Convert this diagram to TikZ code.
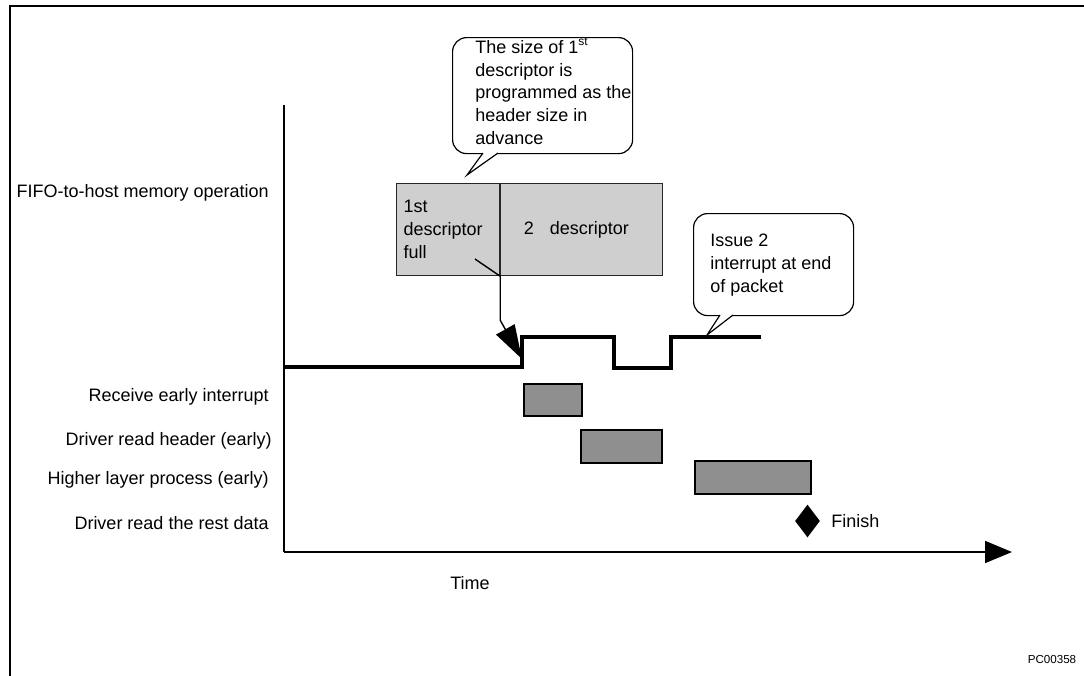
\documentclass[tikz,border=0pt]{standalone}
\usepackage{fontspec}
\setmainfont{Liberation Sans}
\usetikzlibrary{arrows.meta,shapes.geometric}
\begin{document}
\begin{tikzpicture}[x=0.5pt, y=-0.5pt,
    every node/.style={font=\fontsize{9}{11.4}\selectfont, inner sep=0pt},
    lbl/.style={anchor=east},
    note/.style={draw, line width=0.6pt, fill=white, rounded corners=7pt, anchor=north west},
    notetext/.style={anchor=north west, align=left},
    descbox/.style={draw=black!85, line width=0.6pt, fill=black!19, minimum height=46pt, anchor=north west, align=left, inner ysep=0pt},
    taskbar/.style={draw, line width=0.75pt, fill=black!44, anchor=north west, minimum height=16.5pt},
    sig/.style={line width=1.65pt},
    axisline/.style={line width=0.9pt}]
    \useasboundingbox (0,0) rectangle (1084,676);
    \draw[line width=1pt] (1084,5.5) -- (10,5.5) -- (10,676);

    % axes
    \coordinate (origin) at (284,552);
    \coordinate (ytop) at (284,105);
    \coordinate (xend) at (1012,552);
    \draw[axisline] (ytop) -- (origin);
    \draw[axisline, -{Triangle[length=13.5pt, width=11pt]}] (origin) -- (xend);
    \node (time) at (470,583) {Time};

    % row labels
    \node[lbl] (fifo) at (269,193) {FIFO-to-host memory operation};
    \node[lbl] (rxirq) at (269,397) {Receive early interrupt};
    \node[lbl] (rdhdr) at (272,441) {Driver read header (early)};
    \node[lbl] (hlproc) at (269,480) {Higher layer process (early)};
    \node[lbl] (rdrest) at (269,523) {Driver read the rest data};

    % descriptors
    \node[descbox, text width=44.5pt, inner xsep=3.5pt] (firstdesc) at (396,183) {1st\\descriptor\\full};
    \node[descbox, text width=58pt, inner xsep=11.5pt] (seconddesc) at (firstdesc.north east) {2\hspace{5pt} descriptor};

    % interrupt line
    \draw[sig] (284,367) -- (522,367) -- (522,337) -- (614,337) -- (614,368) -- (671,368) -- (671,337) -- (761,337);

    \coordinate (fullmark) at (475,259);
    \coordinate (earlyirq) at (522,359);
    \draw[line width=0.7pt, -{Triangle[length=17pt, width=10.5pt]}] (fullmark) -- (firstdesc.south east) -- ++(0,44) -- (earlyirq);

    % callouts
    \node[note, minimum width=90pt, minimum height=58pt] (sizenote) at (452,37) {};
    \fill[white] (483,153) -- (467,175) -- (498,153) -- (498,150) -- (483,150) -- cycle;
    \draw[line width=0.6pt] (483,153) -- (467,175) -- (498,153);
    \node[notetext] (sizetext) at (475,37.5) {The size of 1\textsuperscript{st}\\descriptor is\\programmed as the\\header size in\\advance};

    \node[note, minimum width=80pt, minimum height=51pt] (irqnote) at (693,213) {};
    \fill[white] (720,315) -- (707,335) -- (733,315) -- (733,312) -- (720,312) -- cycle;
    \draw[line width=0.6pt] (720,315) -- (707,335) -- (733,315);
    \node[notetext] (irqtext) at (710,233.5) {Issue 2\\interrupt at end\\of packet};

    % processing bars
    \node[taskbar, minimum width=29pt, minimum height=16pt] (rxbar) at (523,383) {};
    \node[taskbar, minimum width=40.5pt] (hdrbar) at (580,429) {};
    \node[taskbar, minimum width=58pt] (hlbar) at (694,460) {};
    \node[diamond, fill=black, minimum width=12.5pt, minimum height=16.5pt] (finishmark) at (807.5,521) {};
    \node[anchor=west] (finish) at (831,521) {Finish};

    \node[font=\fontsize{5.8}{7}\selectfont] (figid) at (1052,659) {PC00358};
\end{tikzpicture}
\end{document}
